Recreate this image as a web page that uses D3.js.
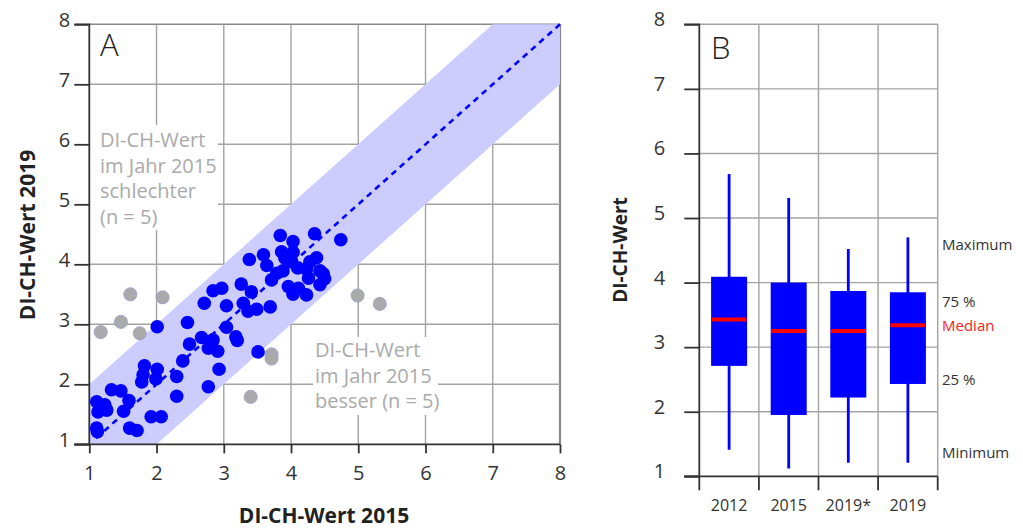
<!DOCTYPE html>
<html><head><meta charset="utf-8">
<script src="https://cdn.jsdelivr.net/npm/d3@7"></script>
<style>
html,body{margin:0;padding:0;background:#fff;}
svg{display:block;font-family:"Open Sans","Noto Sans",sans-serif;}
</style></head>
<body><svg id="c" width="1023" height="528"></svg>
<script>
// ---- Panel A data: DI-CH values 2015 (x) vs 2019 (y) ----
const blueX2015 = [1.11,1.23,1.13,1.26,1.11,1.12,1.33,1.47,1.59,1.51,1.60,1.71,1.92,2.07,1.82,1.80,1.78,2.01,1.99,2.01,
  2.30,2.30,2.39,2.49,2.46,2.67,2.77,2.84,2.91,2.77,2.93,2.71,2.84,2.97,3.04,3.04,3.18,3.20,3.26,3.41,
  3.29,3.36,3.49,3.69,3.51,3.38,3.59,3.64,3.84,3.86,4.03,4.03,3.79,3.71,3.88,3.91,4.01,4.10,3.96,4.03,
  4.11,4.23,4.26,4.28,4.38,4.23,4.43,4.48,4.50,4.43,4.35,4.74];
const blueY2019 = [1.71,1.66,1.54,1.57,1.27,1.21,1.91,1.89,1.73,1.55,1.27,1.23,1.46,1.46,2.31,2.16,2.04,2.25,2.09,2.96,
  2.13,1.80,2.39,2.67,3.03,2.78,2.60,2.74,2.55,1.96,2.25,3.35,3.56,3.60,3.31,2.95,2.79,2.73,3.67,3.54,
  3.35,3.22,3.25,3.29,2.54,4.08,4.16,3.98,4.48,4.21,4.38,4.20,3.85,3.74,3.89,4.10,4.04,3.94,3.63,3.50,
  3.60,3.49,3.77,4.04,4.11,3.92,3.89,3.84,3.76,3.66,4.51,4.41];
const grayX2015 = [1.61,2.09,1.47,1.17,1.75,4.99,5.32,3.71,3.71,3.40];
const grayY2019 = [3.50,3.45,3.04,2.87,2.85,3.48,3.34,2.50,2.43,1.79];
const axisTicksA = [1,2,3,4,5,6,7,8];
const bandCorners = [[1,1],[1,2],[7,8],[8,8],[8,7],[2,1]];
const noteWorse = ["DI-CH-Wert","im Jahr 2015","schlechter","(n = 5)"];
const noteBetter = ["DI-CH-Wert","im Jahr 2015","besser (n = 5)"];

// ---- Panel B data: box plots ----
const boxYears = ["2012","2015","2019*","2019"];
const boxMin    = [1.41,1.12,1.21,1.21];
const boxQ1     = [2.71,1.95,2.22,2.43];
const boxMedian = [3.43,3.25,3.25,3.34];
const boxQ3     = [4.09,4.00,3.87,3.85];
const boxMax    = [5.68,5.31,4.52,4.70];
const legendLabels = ["Maximum","75 %","Median","25 %","Minimum"];
const legendValues = [4.58,3.70,3.33,2.49,1.36];

const svg = d3.select("#c");
const gridCol = "#a3a3a3", axisCol = "#333", textCol = "#333";

// ===== Panel A =====
const xA = d3.scaleLinear().domain([1,8]).range([89.3,560]);
const yA = d3.scaleLinear().domain([1,8]).range([444.3,24.3]);
const gA = svg.append("g");

// grid
gA.selectAll("line.gx").data(axisTicksA.slice(1)).join("line")
  .attr("x1",d=>xA(d)).attr("x2",d=>xA(d)).attr("y1",yA(1)).attr("y2",yA(8))
  .attr("stroke",d=>d===8?"#8a8a8a":gridCol).attr("stroke-width",d=>d===8?2.2:1.4);
gA.selectAll("line.gy").data(axisTicksA.slice(1)).join("line")
  .attr("x1",xA(1)).attr("x2",xA(8)).attr("y1",d=>yA(d)).attr("y2",d=>yA(d))
  .attr("stroke",d=>d===8?"#8a8a8a":gridCol).attr("stroke-width",1.4);

// band
gA.append("polygon")
  .attr("points",bandCorners.map(p=>[xA(p[0]),yA(p[1])].join(",")).join(" "))
  .attr("fill","#ccccff");

// dashed identity line
gA.append("line").attr("x1",xA(1.1)).attr("y1",yA(1.1)).attr("x2",xA(8)).attr("y2",yA(8))
  .attr("stroke","#0000ff").attr("stroke-width",2.6).attr("stroke-dasharray","6,5");

// note boxes
function note(lines,x0,y0,w,h,tx,ty){
  gA.append("rect").attr("x",x0).attr("y",y0).attr("width",w).attr("height",h).attr("fill","#fff");
  const t = gA.append("text").attr("x",tx).attr("y",ty).attr("fill","#aaaaaa").attr("font-size",20);
  lines.forEach((l,i)=>t.append("tspan").attr("x",tx).attr("dy",i?25.5:0).text(l));
}
note(noteWorse,90,125,128,105,100,147);
note(noteBetter,313,337,125,78,315,357);

// axes
const axL = d3.axisLeft(yA).tickValues(axisTicksA).tickSize(15).tickPadding(4).tickFormat(d3.format("d"));
const gyA = gA.append("g").attr("transform",`translate(${xA(1)},0)`).call(axL);
const axB = d3.axisBottom(xA).tickValues(axisTicksA).tickSize(9).tickPadding(13).tickFormat(d3.format("d"));
const gxA = gA.append("g").attr("transform",`translate(0,${yA(1)})`).call(axB);
[gyA,gxA].forEach(g=>{
  g.select(".domain").attr("stroke",axisCol).attr("stroke-width",1.8);
  g.selectAll(".tick line").attr("stroke",axisCol).attr("stroke-width",1.8);
  g.selectAll(".tick text").attr("fill",textCol).attr("font-size",20).attr("font-family","Open Sans");
});
gyA.select(".domain").attr("d",`M-15,${yA(8)}H0V${yA(1)}H-15`);
gyA.selectAll(".tick text").attr("dy","0").attr("y",2);
gxA.select(".domain").attr("d",`M${xA(1)-15},0H${xA(8)}`);

// points
gA.selectAll("circle.gray").data(grayX2015.map((x,i)=>[x,grayY2019[i]])).join("circle")
  .attr("cx",d=>xA(d[0])).attr("cy",d=>yA(d[1])).attr("r",6.6)
  .attr("fill","#aaaaaa").attr("stroke","#9d9dd2").attr("stroke-width",0.8);
gA.selectAll("circle.blue").data(blueX2015.map((x,i)=>[x,blueY2019[i]])).join("circle")
  .attr("cx",d=>xA(d[0])).attr("cy",d=>yA(d[1])).attr("r",6.8).attr("fill","#0000ff");

gA.append("text").attr("x",100).attr("y",56).attr("font-size",31).attr("font-weight",300)
  .attr("fill","#222").text("A");
svg.append("text").attr("x",324).attr("y",523).attr("text-anchor","middle").attr("font-size",21)
  .attr("font-weight","bold").attr("fill","#222").text("DI-CH-Wert 2015");
svg.append("text").attr("transform",`translate(35,235) rotate(-90)`).attr("text-anchor","middle")
  .attr("font-size",21).attr("font-weight","bold").attr("fill","#222").text("DI-CH-Wert 2019");

// ===== Panel B =====
const xB = d3.scaleBand().domain(boxYears).range([699.3,937.7]);
const yB = d3.scaleLinear().domain([1,8]).range([476.3,24.3]);
const gB = svg.append("g");
const bw = xB.bandwidth();
gB.selectAll("line.gx").data(boxYears).join("line")
  .attr("x1",d=>xB(d)+bw).attr("x2",d=>xB(d)+bw).attr("y1",yB(1)).attr("y2",yB(8))
  .attr("stroke",gridCol).attr("stroke-width",1.4);
gB.selectAll("line.gy").data(axisTicksA.slice(1)).join("line")
  .attr("x1",xB.range()[0]).attr("x2",xB.range()[1]).attr("y1",d=>yB(d)).attr("y2",d=>yB(d))
  .attr("stroke",gridCol).attr("stroke-width",1.4);

const boxes = boxYears.map((c,i)=>({c,min:boxMin[i],q1:boxQ1[i],med:boxMedian[i],q3:boxQ3[i],max:boxMax[i]}));
const cx = d=>xB(d.c)+bw/2, boxW = 36;
gB.selectAll("line.wh").data(boxes).join("line")
  .attr("x1",cx).attr("x2",cx).attr("y1",d=>yB(d.min)).attr("y2",d=>yB(d.max))
  .attr("stroke","#0000ff").attr("stroke-width",2.8);
gB.selectAll("rect.bx").data(boxes).join("rect")
  .attr("x",d=>cx(d)-boxW/2).attr("width",boxW).attr("y",d=>yB(d.q3)).attr("height",d=>yB(d.q1)-yB(d.q3))
  .attr("fill","#0000ff");
gB.selectAll("line.md").data(boxes).join("line")
  .attr("x1",d=>cx(d)-boxW/2+0.5).attr("x2",d=>cx(d)+boxW/2-0.5).attr("y1",d=>yB(d.med)).attr("y2",d=>yB(d.med))
  .attr("stroke","#ff0000").attr("stroke-width",4);

const aLB = d3.axisLeft(yB).tickValues(axisTicksA).tickSize(15).tickPadding(19).tickFormat(d3.format("d"));
const gyB = gB.append("g").attr("transform",`translate(${xB.range()[0]},0)`).call(aLB);
const aBB = d3.axisBottom(xB).tickSize(0).tickPadding(22);
const gxB = gB.append("g").attr("transform",`translate(0,${yB(1)})`).call(aBB);
gxB.selectAll("line.bt").data([0].concat(boxYears)).join("line")
  .attr("x1",(d,i)=>i?xB(d)+bw:xB.range()[0]).attr("x2",(d,i)=>i?xB(d)+bw:xB.range()[0])
  .attr("y1",0).attr("y2",14).attr("stroke",axisCol).attr("stroke-width",1.8);
[gyB,gxB].forEach(g=>{
  g.select(".domain").attr("stroke",axisCol).attr("stroke-width",1.8);
  g.selectAll(".tick line").attr("stroke",axisCol).attr("stroke-width",1.8);
  g.selectAll(".tick text").attr("fill",textCol).attr("font-family","Open Sans");
});
gyB.selectAll(".tick text").attr("font-size",20).attr("dy","0").attr("y",1.5);
gyB.select(".domain").attr("d",`M-15,${yB(8)}H0V${yB(1)}H-15`);
gxB.selectAll(".tick text").attr("font-size",16).attr("dy","0").attr("y",35);
gxB.select(".domain").attr("d",`M${xB.range()[0]-15},0H${xB.range()[1]}`);

gB.append("text").attr("x",711).attr("y",59).attr("font-size",31).attr("font-weight",300)
  .attr("fill","#222").text("B");
svg.append("text").attr("transform",`translate(627,250) rotate(-90)`).attr("text-anchor","middle")
  .attr("font-size",19).attr("font-weight","bold").attr("fill","#222").text("DI-CH-Wert");

gB.selectAll("text.lg").data(legendLabels).join("text")
  .attr("x",942).attr("y",(d,i)=>yB(legendValues[i])+5).attr("font-size",15)
  .attr("fill",d=>d==="Median"?"#ff2020":textCol).text(d=>d);
</script></body></html>
